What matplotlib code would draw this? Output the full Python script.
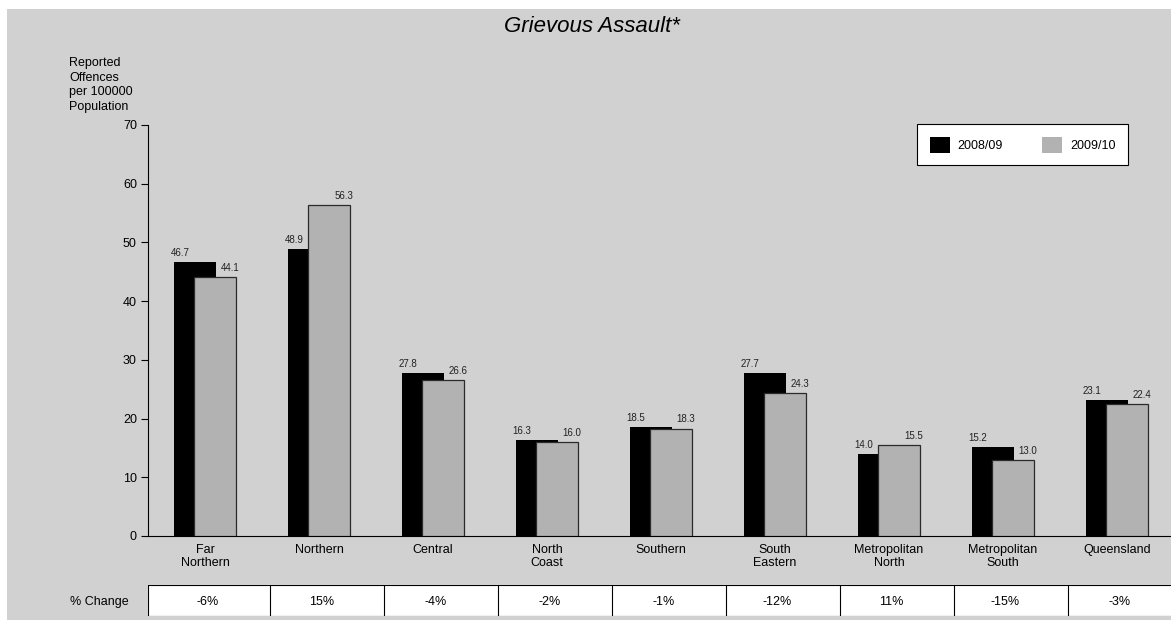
import numpy as np
import matplotlib
matplotlib.use("Agg")
import matplotlib.pyplot as plt
from matplotlib.patches import Rectangle

plt.rcParams['font.family'] = ['Liberation Sans', 'DejaVu Sans']

regions = ["Far\nNorthern", "Northern", "Central", "North\nCoast", "Southern",
           "South\nEastern", "Metropolitan\nNorth", "Metropolitan\nSouth", "Queensland"]
rate_0809 = [46.7, 48.9, 27.8, 16.3, 18.5, 27.7, 14.0, 15.2, 23.1]
rate_0910 = [44.1, 56.3, 26.6, 16.0, 18.3, 24.3, 15.5, 13.0, 22.4]
pct_change = ["-6%", "15%", "-4%", "-2%", "-1%", "-12%", "11%", "-15%", "-3%"]

W, H = 1171, 620
bg = '#d1d1d1'
fig = plt.figure(figsize=(W / 100, H / 100), dpi=100, facecolor='white')
fig.patches.append(Rectangle((7 / W, 0), 1, 1 - 9 / H, transform=fig.transFigure,
                             facecolor=bg, edgecolor='none', zorder=-10))

ax = fig.add_axes([148 / W, (H - 536) / H, 1026 / W, 411 / H])
ax.set_facecolor('none')
x = np.arange(len(regions))
bw = 0.37
ax.bar(x - 0.09, rate_0809, bw, color='black', edgecolor='black', linewidth=0, zorder=2,
       label='2008/09')
ax.bar(x + 0.09, rate_0910, bw, color='#b2b2b2', edgecolor='#2a2a2a', linewidth=0.9, zorder=3,
       label='2009/10')
for i in range(len(regions)):
    ax.text(x[i] - 0.22, rate_0809[i] + 0.7, f"{rate_0809[i]:.1f}", ha='center', va='bottom',
            fontsize=7, color='#222222')
    ax.text(x[i] + 0.22, rate_0910[i] + 0.7, f"{rate_0910[i]:.1f}", ha='center', va='bottom',
            fontsize=7, color='#222222')

ax.set_xlim(-0.5, 8.5)
ax.set_ylim(0, 70)
ax.set_yticks(range(0, 71, 10))
ax.tick_params(axis='y', direction='out', length=5, width=0.8, pad=3, labelsize=9)
ax.set_xticks(x)
ax.set_xticklabels(regions, fontsize=9, linespacing=1.05)
ax.tick_params(axis='x', length=0, pad=6)
for s in ['top', 'right']:
    ax.spines[s].set_visible(False)
ax.spines['left'].set_linewidth(0.8)
ax.spines['bottom'].set_linewidth(0.8)

fig.text(69 / W, 1 - 57 / H, "Reported\nOffences\nper 100000\nPopulation", ha='left', va='top',
         fontsize=9, linespacing=1.3)
fig.text(592 / W, 1 - 32 / H, "Grievous Assault*", ha='center', va='baseline',
         fontsize=16, style='italic')

leg = ax.legend(loc='upper left', bbox_to_anchor=(917 / W, 1 - 124 / H),
                bbox_transform=fig.transFigure, ncol=2, fontsize=9, frameon=True,
                fancybox=False, borderaxespad=0, handlelength=1.6, handleheight=1.6,
                handletextpad=0.6, columnspacing=3.2, borderpad=1.0)
leg.get_frame().set_edgecolor('black')
leg.get_frame().set_linewidth(0.8)
leg.get_frame().set_facecolor('white')
leg.get_frame().set_alpha(1)
for h in leg.legend_handles:
    h.set_linewidth(0)

# % change row
tab = fig.add_axes([148 / W, (H - 616) / H, 1026 / W, 31 / H])
tab.set_xlim(-0.5, 8.5)
tab.set_ylim(0, 1)
tab.axis('off')
tab.add_patch(Rectangle((-0.5, 0), 10, 1, facecolor='white', edgecolor='none'))
tab.plot([-0.5, 9], [1, 1], color='black', lw=0.8)
tab.plot([-0.5, 9], [0, 0], color='black', lw=0.8)
for b in [-0.5] + [i + 0.57 for i in range(8)]:
    tab.plot([b, b], [-0.1, 1], color='black', lw=0.8)
for i, p in enumerate(pct_change):
    tab.text(x[i] + 0.02, 0.45, p, ha='center', va='center', fontsize=9)
fig.text(129 / W, 1 - 602 / H, "% Change", ha='right', va='center', fontsize=9)

fig.savefig("out.png", dpi=100, facecolor=fig.get_facecolor())
